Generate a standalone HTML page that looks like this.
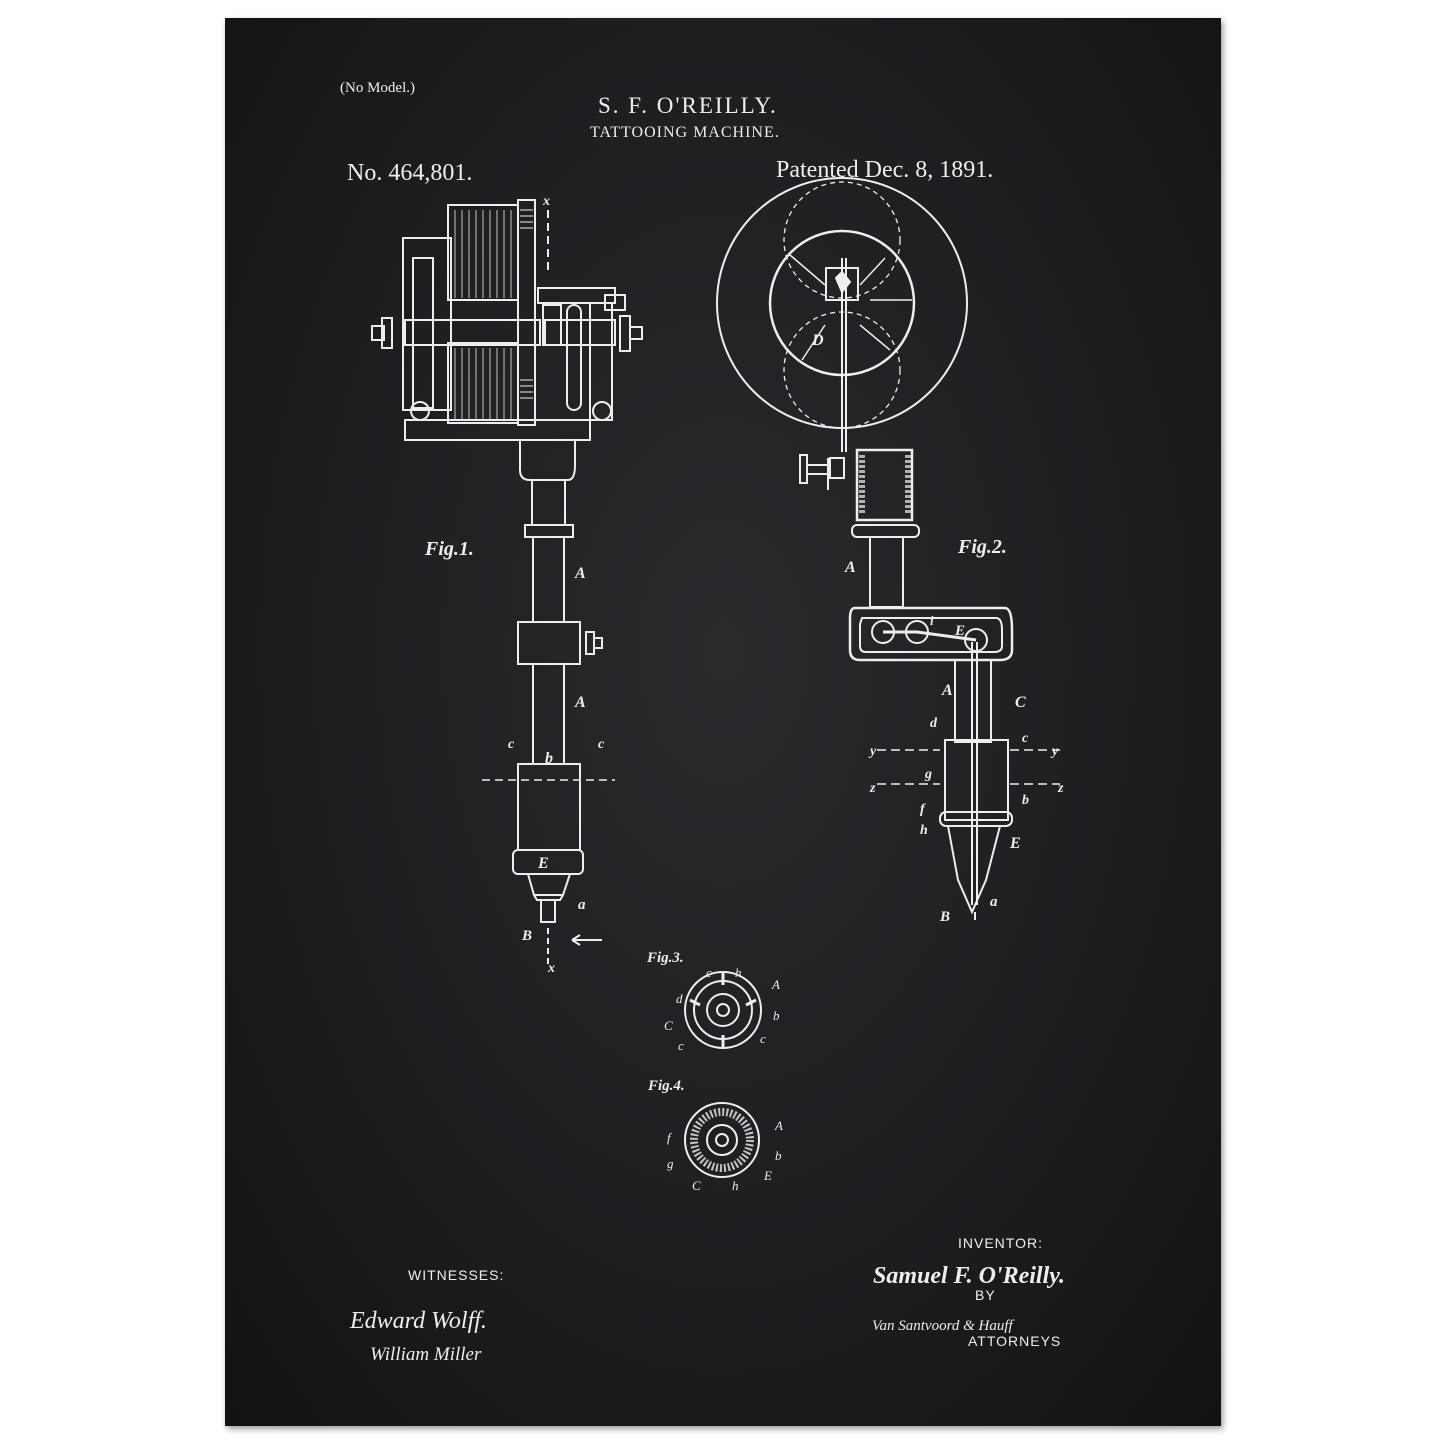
<!DOCTYPE html>
<html><head><meta charset="utf-8"><style>
html,body{margin:0;padding:0;background:#fff;width:1445px;height:1445px;overflow:hidden}
.p{position:absolute;left:225px;top:18px;width:996px;height:1408px;background:radial-gradient(ellipse at 50% 45%,#2a2a2d 0%,#1d1d20 60%,#121214 100%);box-shadow:2px 3px 6px rgba(0,0,0,.4)}
svg{position:absolute;left:0;top:0}
text{fill:#eee}
</style></head><body>
<div class="p"></div>
<svg width="1445" height="1445" viewBox="0 0 1445 1445" fill="none" stroke="#eee" stroke-width="2">
<g stroke="none" font-family="Liberation Serif, serif">
<text x="340" y="92" font-size="15">(No Model.)</text>
<text x="598" y="113" font-size="23" letter-spacing="2">S. F. O'REILLY.</text>
<text x="590" y="137" font-size="16" letter-spacing="1">TATTOOING MACHINE.</text>
<text x="347" y="180" font-size="24">No. 464,801.</text>
<text x="776" y="177" font-size="24">Patented Dec. 8, 1891.</text>
<g font-style="italic" font-weight="bold" font-size="20">
<text x="425" y="555">Fig.1.</text><text x="958" y="553">Fig.2.</text>
<text x="647" y="962" font-size="15">Fig.3.</text><text x="648" y="1090" font-size="15">Fig.4.</text>
<text x="575" y="578" font-size="16">A</text><text x="575" y="707" font-size="16">A</text>
<text x="845" y="572" font-size="16">A</text><text x="942" y="695" font-size="16">A</text>
<text x="545" y="763" font-size="16">b</text><text x="1015" y="707" font-size="16">C</text>
<text x="812" y="345" font-size="16">D</text><text x="1010" y="848" font-size="16">E</text>
<text x="940" y="921" font-size="15">B</text><text x="522" y="940" font-size="15">B</text>
<text x="578" y="909" font-size="15">a</text><text x="990" y="906" font-size="15">a</text>
<text x="955" y="635" font-size="15">E</text><text x="930" y="625" font-size="13">i</text>
<text x="930" y="727" font-size="14">d</text><text x="925" y="778" font-size="14">g</text>
<text x="920" y="813" font-size="14">f</text><text x="920" y="834" font-size="14">h</text>
<text x="1022" y="804" font-size="14">b</text><text x="1022" y="742" font-size="14">c</text>
<text x="870" y="755" font-size="14">y</text><text x="1052" y="755" font-size="14">y</text>
<text x="870" y="792" font-size="14">z</text><text x="1058" y="792" font-size="14">z</text>
<text x="508" y="748" font-size="14">c</text><text x="598" y="748" font-size="14">c</text>
<text x="543" y="205" font-size="14">x</text><text x="548" y="972" font-size="14">x</text>
<text x="538" y="868" font-size="16">E</text>
</g>
<g font-style="italic" font-size="13">
<text x="772" y="989">A</text><text x="773" y="1020">b</text><text x="760" y="1043">c</text>
<text x="676" y="1003">d</text><text x="664" y="1030">C</text><text x="678" y="1050">c</text>
<text x="706" y="977">c</text><text x="735" y="977">h</text>
<text x="775" y="1130">A</text><text x="775" y="1160">b</text><text x="764" y="1180">E</text>
<text x="732" y="1190">h</text><text x="692" y="1190">C</text><text x="667" y="1142">f</text><text x="667" y="1168">g</text>
</g>
<g font-family="Liberation Sans, sans-serif" font-size="14" letter-spacing="1">
<text x="408" y="1280">WITNESSES:</text><text x="958" y="1248">INVENTOR:</text>
<text x="975" y="1300">BY</text><text x="968" y="1346">ATTORNEYS</text>
</g>
<g font-style="italic" font-family="Liberation Serif, serif">
<text x="350" y="1328" font-size="24">Edward Wolff.</text><text x="370" y="1360" font-size="19">William Miller</text>
<text x="873" y="1283" font-size="24" font-weight="bold">Samuel F. O'Reilly.</text>
<text x="872" y="1330" font-size="15">Van Santvoord &amp; Hauff</text>
</g>
</g>
<!-- Fig1 -->
<rect x="403" y="238" width="48" height="172"/><rect x="413" y="258" width="20" height="150"/>
<rect x="448" y="205" width="70" height="95"/><rect x="448" y="343" width="70" height="80"/>
<g stroke-width="1" opacity=".8"><path d="M455 210V298M462 210V298M469 210V298M476 210V298M483 210V298M490 210V298M497 210V298M504 210V298M511 210V298M455 348V420M462 348V420M469 348V420M476 348V420M483 348V420M490 348V420M497 348V420M504 348V420M511 348V420"/></g>
<rect x="518" y="200" width="17" height="225"/><path d="M520 210H533M520 216H533M520 222H533M520 228H533M520 380H533M520 386H533M520 392H533M520 398H533" stroke-width="1"/>
<path d="M548 210V270" stroke-dasharray="8 5"/>
<rect x="538" y="288" width="77" height="15"/><rect x="543" y="305" width="18" height="40"/>
<rect x="567" y="305" width="14" height="105" rx="7"/><rect x="590" y="303" width="22" height="117"/>
<rect x="605" y="295" width="20" height="15"/>
<rect x="405" y="320" width="135" height="25"/><rect x="545" y="320" width="70" height="25"/>
<rect x="382" y="318" width="10" height="30"/><rect x="372" y="326" width="12" height="14"/>
<rect x="620" y="316" width="10" height="35"/><rect x="630" y="327" width="12" height="12"/>
<path d="M405 420H590V440H405Z"/><circle cx="420" cy="411" r="9"/><circle cx="602" cy="411" r="9"/>
<path d="M520 440V470Q520 480 530 480H568Q575 480 575 465V440"/>
<rect x="532" y="480" width="33" height="45"/><rect x="525" y="525" width="48" height="12"/>
<rect x="533" y="537" width="31" height="85"/><rect x="518" y="622" width="62" height="42"/>
<rect x="586" y="632" width="8" height="22"/><rect x="594" y="638" width="8" height="10"/>
<rect x="533" y="664" width="31" height="100"/>
<path d="M482 780H615" stroke-dasharray="8 5" stroke-width="1.5"/>
<rect x="518" y="764" width="62" height="86"/><rect x="513" y="850" width="70" height="24" rx="5"/>
<path d="M528 874L534 895H563L570 874M534 895L537 900H560L563 895M541 900V922H555V900"/>
<path d="M548 928V965" stroke-dasharray="6 4"/><path d="M572 940H602M572 940L580 935M572 940L580 945"/>
<!-- Fig2 -->
<circle cx="842" cy="303" r="125"/><circle cx="842" cy="303" r="72" stroke-width="2.5"/>
<circle cx="842" cy="240" r="58" stroke-dasharray="5 4" stroke-width="1.3"/><circle cx="842" cy="370" r="58" stroke-dasharray="5 4" stroke-width="1.3"/>
<path d="M790 255L825 285M802 360L825 325M885 258L860 285M890 350L860 325M870 300H912" stroke-width="1.5"/>
<rect x="826" y="268" width="32" height="32"/><path d="M836 278L842 272L850 282L842 292Z" fill="#eee"/>
<path d="M842 258V452M846 258V452"/>
<rect x="857" y="450" width="55" height="70" stroke-width="2.5"/>
<path d="M862 455V515M908 455V515" stroke-width="6" stroke-dasharray="3 2" opacity=".7"/>
<rect x="852" y="525" width="67" height="12" rx="5"/>
<rect x="870" y="537" width="33" height="70"/>
<rect x="800" y="455" width="7" height="28"/><path d="M807 465H828M807 474H828M828 458V490"/><rect x="830" y="458" width="14" height="20"/>
<path d="M855 608H1005Q1012 608 1012 630V650Q1012 660 1000 660H860Q850 660 850 650V618Q850 608 855 608Z" stroke-width="2.5"/>
<path d="M862 618H996Q1002 618 1002 630V646Q1002 652 994 652H866Q860 652 860 646V624Z"/>
<circle cx="883" cy="632" r="11"/><circle cx="917" cy="632" r="11"/><circle cx="976" cy="640" r="11"/><path d="M883 632L917 632L976 640" stroke-width="3"/>
<rect x="955" y="660" width="36" height="82"/><path d="M972 642V905M977 642V905"/>
<rect x="945" y="740" width="63" height="80"/><rect x="940" y="812" width="72" height="14" rx="6"/>
<path d="M877 750H940M1010 750H1060M877 784H940M1010 784H1060" stroke-dasharray="9 5" stroke-width="1.5"/>
<path d="M948 826L958 880L972 912L986 880L1000 826"/><path d="M975 912V920"/>
<!-- Fig3/4 -->
<circle cx="723" cy="1010" r="38"/><circle cx="723" cy="1010" r="29"/><circle cx="723" cy="1010" r="16"/><circle cx="723" cy="1010" r="6"/>
<path d="M690 1000L700 1005M756 1000L746 1005M723 972V985M723 1035V1048" stroke-width="3"/>
<circle cx="722" cy="1140" r="37"/><circle cx="722" cy="1140" r="28" stroke-width="8" stroke-dasharray="2 2" opacity=".8"/><circle cx="722" cy="1140" r="15"/><circle cx="722" cy="1140" r="6"/>
</svg>
</body></html>
